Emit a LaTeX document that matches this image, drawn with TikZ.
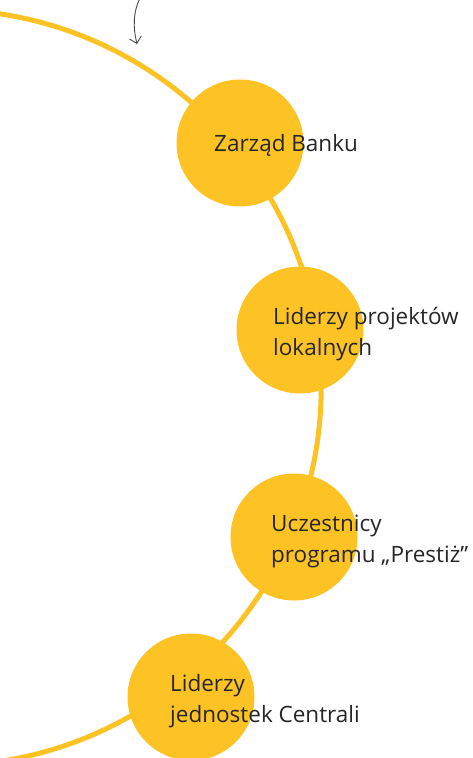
\documentclass[tikz,border=0pt]{standalone}
\usepackage{fontspec}
\setmainfont{Open Sans}
\usetikzlibrary{arrows.meta,calc}
\definecolor{gold}{HTML}{FDC325}
\definecolor{inkgray}{HTML}{4A4A4A}
\begin{document}
\begin{tikzpicture}[x=1pt, y=-1pt,
  disc/.style={circle, fill=gold, inner sep=0, minimum size=127pt},
  caption/.style={anchor=west, align=left, inner sep=0, font=\fontsize{22.5}{31}\selectfont, text=black!85}]
\useasboundingbox (0,0) rectangle (472,758);
\clip (0,0) rectangle (472,758);
\def\disc{node [disc] }

% the big arc
\draw [gold, line width=5pt] (-56.8,387.6) circle (378);

\path (240,143) \disc (zb) {};
\path (300,330) \disc (lp) {};
\path (294,537) \disc (up) {};
\path (191,697) \disc (lj) {};

\node [caption] (tzb) at ($(zb.center)+(-26,2)$) {Zarząd Banku};
\node [caption] (tlp) at ($(lp.center)+(-27,4)$) {Liderzy projektów\\lokalnych};
\node [caption] (tup) at ($(up.center)+(-23,4)$) {Uczestnicy\\programu „Prestiż”};
\node [caption] (tlj) at ($(lj.center)+(-21,4)$) {Liderzy\\jednostek Centrali};

% pointer from the title
\coordinate (top) at (140,-2);
\coordinate (tip) at (137,44);
\draw [inkgray, line width=0.9pt, -{Straight Barb[length=6pt, width=12pt]}]
  (top) .. controls (133,12) and (133,28) .. (tip);
\end{tikzpicture}
\end{document}
